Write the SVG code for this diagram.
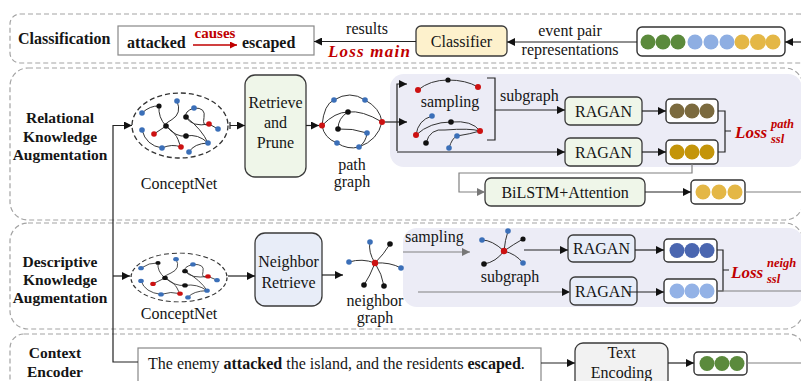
<svg xmlns="http://www.w3.org/2000/svg" width="801" height="381" viewBox="0 0 801 381">
<style>
.sec{fill:none;stroke:#a3a3a3;stroke-width:1.2;stroke-dasharray:5 3}
.shade{fill:#ececf6}
.box{stroke:#3a3a3a;stroke-width:1.3}
.green{fill:#eff6e9}
.blue{fill:#e8edf8}
.emb{fill:#fff;stroke:#333;stroke-width:1.4}
.t{font-family:"Liberation Serif","Times New Roman",serif;font-size:16px;fill:#151515}
.m{text-anchor:middle}
.b{font-weight:bold}
.lbl{font-family:"Liberation Serif","Times New Roman",serif;font-weight:bold;font-size:15.5px;fill:#151515;text-anchor:middle}
.ln{fill:none;stroke:#222;stroke-width:1.2}
.gl{fill:none;stroke:#808080;stroke-width:1.2}
.edge{fill:none;stroke:#333;stroke-width:1}
.nb{fill:#3b6fb8}
.nr{fill:#cc1111}
.nk{fill:#111}
.loss{font-family:"Liberation Serif","Times New Roman",serif;font-weight:bold;font-style:italic;fill:#c00000}
.cg{fill:#5b8a3c}
.cl{fill:#8eaee2}
.cy{fill:#e4b746}
.cbr{fill:#7b6a3e}
.cgo{fill:#c4950a}
.cdb{fill:#4a66b0}
.clb{fill:#93b2e6}
</style>
<defs>
<marker id="arr" viewBox="0 0 10 10" refX="10" refY="5" markerWidth="9" markerHeight="8" markerUnits="userSpaceOnUse" orient="auto">
<path d="M0,0 L10,5 L0,10 z" fill="#111"/>
</marker>
<marker id="arrG" viewBox="0 0 10 10" refX="10" refY="5" markerWidth="9" markerHeight="8" markerUnits="userSpaceOnUse" orient="auto">
<path d="M0,0 L10,5 L0,10 z" fill="#777"/>
</marker>
<marker id="arrR" viewBox="0 0 10 10" refX="10" refY="5" markerWidth="9" markerHeight="7" markerUnits="userSpaceOnUse" orient="auto">
<path d="M0,0 L10,5 L0,10 z" fill="#c00000"/>
</marker>
<!-- knowledge graph glyph, centred on the origin -->
<g id="kg">
<ellipse cx="0" cy="0" rx="48" ry="32.5" fill="none" stroke="#333" stroke-width="1.3" stroke-dasharray="5 3"/>
<path class="edge" d="M-38,-12.5 Q-30,-20 -21,-19.5 M-21,-19.5 Q-22,-8 -14,0.5 M-3,-24.5 Q2,-12 -8,-6 T-14,0.5 M14,-17.5 Q26,-18 24,-8 T29,-1.5 M6,-8.5 Q12,2 29,-1.5 M29,-1.5 L38,3.5 M-14,0.5 Q-4,12 6,10.5 M6,10.5 Q18,8 28,17.5 M6,-8.5 Q22,4 28,17.5 M-38,4.5 Q-34,20 -18,22.5 M-14,0.5 L-26,8.5 M-14,0.5 Q-4,8 -2,14 T1,21.5 M-18,22.5 Q-8,18 1,21.5 M9,26.5 Q14,18 28,17.5 M14,-17.5 Q4,-14 6,-8.5"/>
<circle class="nb" cx="-38" cy="-12.5" r="2.8"/>
<circle class="nk" cx="-21" cy="-19.5" r="2.6"/>
<circle class="nb" cx="-3" cy="-24.5" r="2.8"/>
<circle class="nb" cx="14" cy="-17.5" r="2.8"/>
<circle class="nk" cx="6" cy="-8.5" r="2.8"/>
<circle class="nr" cx="29" cy="-1.5" r="2.8"/>
<circle class="nb" cx="38" cy="3.5" r="2.8"/>
<circle class="nk" cx="-14" cy="0.5" r="2.8"/>
<circle class="nb" cx="-38" cy="4.5" r="2.8"/>
<circle class="nr" cx="-26" cy="8.5" r="2.8"/>
<circle class="nk" cx="6" cy="10.5" r="2.8"/>
<circle class="nb" cx="28" cy="17.5" r="2.8"/>
<circle class="nb" cx="-18" cy="22.5" r="2.8"/>
<circle class="nr" cx="1" cy="21.5" r="2.8"/>
<circle class="nb" cx="9" cy="26.5" r="2.8"/>
</g>
</defs>

<!-- section frames -->
<g id="sections">
<rect class="sec" x="10" y="14" width="800" height="49" rx="10"/>
<rect class="sec" x="10" y="68" width="793" height="152" rx="18"/>
<rect class="sec" x="10" y="223" width="793" height="106" rx="18"/>
<rect class="sec" x="10" y="334" width="793" height="70" rx="14"/>
<rect class="shade" x="390" y="74" width="412" height="93" rx="14"/>
<rect class="shade" x="403" y="228" width="400" height="79" rx="14"/>
</g>

<!-- section titles -->
<g id="titles">
<text class="lbl" x="18" y="44" style="text-anchor:start;font-size:16px">Classification</text>
<text class="lbl" x="60" y="123">Relational</text>
<text class="lbl" x="60" y="142">Knowledge</text>
<text class="lbl" x="60" y="160">Augmentation</text>
<text class="lbl" x="60" y="267">Descriptive</text>
<text class="lbl" x="60" y="285">Knowledge</text>
<text class="lbl" x="60" y="303">Augmentation</text>
<text class="lbl" x="55" y="358">Context</text>
<text class="lbl" x="55" y="377">Encoder</text>
</g>

<!-- classification row -->
<g id="result">
<rect x="118" y="26" width="196" height="29" fill="#fff" stroke="#888" stroke-width="1.2"/>
<text class="t b" x="127" y="48">attacked</text>
<text class="t b m" x="215" y="38" style="fill:#c00000;font-size:15px">causes</text>
<line x1="193" y1="45" x2="237" y2="45" stroke="#c00000" stroke-width="1.3" marker-end="url(#arrR)"/>
<text class="t b" x="242" y="48">escaped</text>
</g>
<g id="classifier">
<rect class="box" x="416" y="26" width="91" height="30" rx="5" fill="#fdf1cc"/>
<text class="t m" x="461.5" y="47">Classifier</text>
</g>
<g id="pair-rep">
<rect class="emb" x="637" y="27" width="148" height="29" rx="5"/>
<circle class="cg" cx="648" cy="42" r="7.5"/>
<circle class="cg" cx="663" cy="42" r="7.5"/>
<circle class="cg" cx="678" cy="42" r="7.5"/>
<circle class="cl" cx="695" cy="42" r="7.5"/>
<circle class="cl" cx="711" cy="42" r="7.5"/>
<circle class="cl" cx="727" cy="42" r="7.5"/>
<circle class="cy" cx="742" cy="42" r="7.5"/>
<circle class="cy" cx="758" cy="42" r="8"/>
<circle class="cy" cx="773" cy="42" r="7.5"/>
</g>

<!-- relational knowledge augmentation -->
<g id="conceptnet-1">
<use href="#kg" transform="translate(180,125.5)"/>
<text class="t m" x="179" y="189">ConceptNet</text>
</g>
<g id="retrieve-prune">
<rect class="box green" x="245" y="75" width="61" height="102" rx="10"/>
<text class="t m" x="275.5" y="108">Retrieve</text>
<text class="t m" x="275.5" y="128">and</text>
<text class="t m" x="275.5" y="148">Prune</text>
</g>
<g id="path-graph">
<path class="edge" d="M322,125.5 Q324,104 334,100 Q350,90 365,100 Q380,108 382,122 Q378,140 359,147 Q348,150 337,143 Q324,138 322,125.5 M322,125.5 Q335,112 348,112 Q362,110 382,122 M348,112 Q338,118 338,129 Q352,128 367,133 Q366,142 359,147"/>
<circle class="nr" cx="322" cy="125.5" r="3"/>
<circle class="nb" cx="334" cy="100" r="2.8"/>
<circle class="nb" cx="365" cy="100" r="2.8"/>
<circle class="nk" cx="348" cy="112" r="2.8"/>
<circle class="nk" cx="338" cy="129" r="2.8"/>
<circle class="nr" cx="382" cy="122" r="3"/>
<circle class="nb" cx="367" cy="133" r="2.8"/>
<circle class="nb" cx="337" cy="143" r="2.8"/>
<circle class="nb" cx="359" cy="147" r="2.8"/>
<text class="t m" x="352" y="170">path</text>
<text class="t m" x="352" y="187">graph</text>
</g>
<g id="path-samples">
<path class="edge" d="M418,90 Q430,80 448,80 Q466,80 478,87"/>
<circle class="nr" cx="418" cy="90" r="3"/>
<circle class="nk" cx="448" cy="80" r="2.6"/>
<circle class="nr" cx="478" cy="87" r="3"/>
<text class="t m" x="450" y="107">sampling</text>
<path class="edge" d="M416,135 Q418,120 432,116 M416,135 Q430,122 451,122 Q472,120 480,131 M426,143 Q430,128 445,130 Q470,128 480,131 M449,148 Q452,138 457,136 Q470,134 480,131"/>
<circle class="nb" cx="432" cy="116" r="2.8"/>
<circle class="nr" cx="416" cy="135" r="3"/>
<circle class="nk" cx="451" cy="122" r="2.8"/>
<circle class="nr" cx="480" cy="131" r="3"/>
<circle class="nk" cx="426" cy="143" r="2.8"/>
<circle class="nb" cx="457" cy="136" r="2.8"/>
<circle class="nb" cx="449" cy="148" r="2.8"/>
<text class="t" x="500" y="101">subgraph</text>
</g>
<g id="ragan-1">
<rect class="box green" x="565" y="97" width="77" height="28" rx="5"/>
<text class="t m" x="603.5" y="117">RAGAN</text>
</g>
<g id="ragan-2">
<rect class="box green" x="565" y="138" width="77" height="28" rx="5"/>
<text class="t m" x="603.5" y="158">RAGAN</text>
</g>
<g id="path-emb-1">
<rect class="emb" x="666" y="99" width="52" height="24" rx="4"/>
<circle class="cbr" cx="677" cy="111" r="7.5"/>
<circle class="cbr" cx="692" cy="111" r="7.5"/>
<circle class="cbr" cx="707" cy="111" r="7.5"/>
</g>
<g id="path-emb-2">
<rect class="emb" x="666" y="140" width="52" height="24" rx="4"/>
<circle class="cgo" cx="677" cy="152" r="7.5"/>
<circle class="cgo" cx="692" cy="152" r="7.5"/>
<circle class="cgo" cx="707" cy="152" r="7.5"/>
</g>
<g id="loss-path">
<text class="loss" x="735" y="138" font-size="17">Loss</text>
<text class="loss" x="771" y="128" font-size="12.5">path</text>
<text class="loss" x="771" y="143" font-size="12.5">ssl</text>
</g>
<g id="bilstm">
<rect class="box green" x="485" y="178" width="160" height="28" rx="6"/>
<text class="t m" x="565" y="198">BiLSTM+Attention</text>
</g>
<g id="path-emb-3">
<rect class="emb" x="691" y="180" width="54" height="24" rx="4"/>
<circle class="cy" cx="703" cy="192" r="7.5"/>
<circle class="cy" cx="719" cy="192" r="7.5"/>
<circle class="cy" cx="735" cy="192" r="7.5"/>
</g>

<!-- descriptive knowledge augmentation -->
<g id="conceptnet-2">
<use href="#kg" transform="translate(179,277.5) scale(1,0.75)"/>
<text class="t m" x="179" y="319">ConceptNet</text>
</g>
<g id="neighbor-retrieve">
<rect class="box blue" x="255" y="233" width="67" height="73" rx="10"/>
<text class="t m" x="288.5" y="267">Neighbor</text>
<text class="t m" x="288.5" y="288">Retrieve</text>
</g>
<g id="neighbor-graph">
<path class="edge" d="M375,263 Q368,252 370,242 M375,263 Q384,254 390,244 M375,263 Q362,258 349,262 M375,263 Q390,262 401,268 M375,263 Q370,276 364,285 M375,263 Q382,274 384,286"/>
<circle class="nb" cx="370" cy="242" r="2.8"/>
<circle class="nk" cx="390" cy="244" r="2.8"/>
<circle class="nb" cx="349" cy="262" r="2.8"/>
<circle class="nb" cx="401" cy="268" r="2.8"/>
<circle class="nk" cx="364" cy="285" r="2.8"/>
<circle class="nk" cx="384" cy="286" r="2.8"/>
<circle class="nr" cx="375" cy="263" r="3.2"/>
<text class="t m" x="375" y="306">neighbor</text>
<text class="t m" x="375" y="323">graph</text>
</g>
<g id="neighbor-sample">
<text class="t" x="405" y="242">sampling</text>
<path class="edge" d="M504,251 Q492,240 482,240 M504,251 Q505,240 508,231 M504,251 Q514,244 523,239 M504,251 Q496,262 484,264 M504,251 Q516,254 523,263"/>
<circle class="nb" cx="482" cy="240" r="2.8"/>
<circle class="nb" cx="508" cy="231" r="2.8"/>
<circle class="nk" cx="523" cy="239" r="2.6"/>
<circle class="nk" cx="484" cy="264" r="2.8"/>
<circle class="nb" cx="523" cy="263" r="2.8"/>
<circle class="nr" cx="504" cy="251" r="3.2"/>
<text class="t m" x="510" y="282">subgraph</text>
</g>
<g id="ragan-3">
<rect class="box blue" x="568" y="235" width="67" height="27" rx="5"/>
<text class="t m" x="601.5" y="254">RAGAN</text>
</g>
<g id="ragan-4">
<rect class="box blue" x="570" y="277" width="67" height="28" rx="5"/>
<text class="t m" x="603.5" y="297">RAGAN</text>
</g>
<g id="neigh-emb-1">
<rect class="emb" x="664" y="239" width="53" height="23" rx="4"/>
<circle class="cdb" cx="677" cy="250.5" r="7.5"/>
<circle class="cdb" cx="692" cy="250.5" r="7.5"/>
<circle class="cdb" cx="707" cy="250.5" r="7.5"/>
</g>
<g id="neigh-emb-2">
<rect class="emb" x="664" y="279" width="53" height="24" rx="4"/>
<circle class="clb" cx="677" cy="291" r="7.5"/>
<circle class="clb" cx="692" cy="291" r="7.5"/>
<circle class="clb" cx="707" cy="291" r="7.5"/>
</g>
<g id="loss-neigh">
<text class="loss" x="731" y="278" font-size="17">Loss</text>
<text class="loss" x="767" y="267" font-size="12.5">neigh</text>
<text class="loss" x="767" y="283" font-size="12.5">ssl</text>
</g>

<!-- context encoder -->
<g id="sentence">
<rect x="138" y="348" width="403" height="40" fill="#fff" stroke="#888" stroke-width="1.2"/>
<text class="t" x="148" y="369">The enemy <tspan class="b">attacked</tspan> the island, and the residents <tspan class="b">escaped</tspan>.</text>
</g>
<g id="text-encoding">
<rect class="box" x="575" y="343" width="93" height="45" rx="8" fill="#f2f2f2"/>
<text class="t m" x="621.5" y="358">Text</text>
<text class="t m" x="621.5" y="378">Encoding</text>
</g>
<g id="context-emb">
<rect class="emb" x="694" y="352" width="53" height="23" rx="4"/>
<circle class="cg" cx="707" cy="363.5" r="7.5"/>
<circle class="cg" cx="722" cy="363.5" r="7.5"/>
<circle class="cg" cx="737" cy="363.5" r="7.5"/>
</g>

<!-- connectors -->
<g id="connectors">
<line class="ln" x1="416" y1="41.5" x2="314" y2="41.5" marker-end="url(#arr)"/>
<line class="ln" x1="637" y1="42" x2="507" y2="42" marker-end="url(#arr)"/>
<line class="ln" x1="801" y1="42" x2="785" y2="42" marker-end="url(#arr)"/>
<text class="t m" x="367" y="34">results</text>
<text class="loss" x="328" y="57" font-size="17" letter-spacing="1.2">Loss main</text>
<text class="t m" x="570" y="36">event pair</text>
<text class="t m" x="570" y="55">representations</text>

<path class="ln" d="M138,362 H113 V125.5 H132" marker-end="url(#arr)"/>
<line class="ln" x1="113" y1="276" x2="130" y2="276" marker-end="url(#arr)"/>
<path class="ln" d="M230,122 V129 M230,125.5 H245" marker-end="url(#arr)"/>
<line class="ln" x1="306" y1="125.5" x2="319" y2="125.5" marker-end="url(#arr)"/>
<path class="ln" d="M397,151 V84 H407" marker-end="url(#arr)"/>
<line class="ln" x1="385" y1="122" x2="407" y2="122" marker-end="url(#arr)"/>
<line class="ln" x1="397" y1="152" x2="565" y2="152" marker-end="url(#arr)"/>
<path class="ln" d="M487,78 H495 V140 H487"/>
<line class="ln" x1="495" y1="110" x2="565" y2="110" marker-end="url(#arr)"/>
<line class="ln" x1="642" y1="111" x2="666" y2="111" marker-end="url(#arr)"/>
<line class="ln" x1="642" y1="152" x2="666" y2="152" marker-end="url(#arr)"/>
<path class="ln" d="M718,111 H725 V152 H718 M725,131 H731"/>
<path class="gl" d="M692,164 V173 H459 V192 H485" marker-end="url(#arrG)"/>
<line class="ln" x1="645" y1="192" x2="691" y2="192" marker-end="url(#arr)"/>
<line class="gl" x1="745" y1="192" x2="801" y2="192"/>

<line class="ln" x1="228" y1="276" x2="255" y2="276" marker-end="url(#arr)"/>
<line class="ln" x1="322" y1="275" x2="343" y2="275" marker-end="url(#arr)"/>
<line class="gl" x1="403" y1="252" x2="470" y2="252" marker-end="url(#arrG)"/>
<line class="ln" x1="524" y1="250" x2="568" y2="250" marker-end="url(#arr)"/>
<line class="gl" x1="418" y1="292" x2="570" y2="292" marker-end="url(#arr)"/>
<line class="ln" x1="635" y1="250" x2="664" y2="250" marker-end="url(#arr)"/>
<line class="ln" x1="627" y1="292" x2="664" y2="292" marker-end="url(#arr)"/>
<path class="ln" d="M717,250 H723 V291 H717 M723,270 H729"/>
<line class="gl" x1="717" y1="291" x2="801" y2="291"/>

<line class="ln" x1="541" y1="363" x2="575" y2="363" marker-end="url(#arr)"/>
<line class="ln" x1="668" y1="363" x2="694" y2="363" marker-end="url(#arr)"/>
<line class="gl" x1="747" y1="363" x2="801" y2="363"/>
</g>
</svg>
